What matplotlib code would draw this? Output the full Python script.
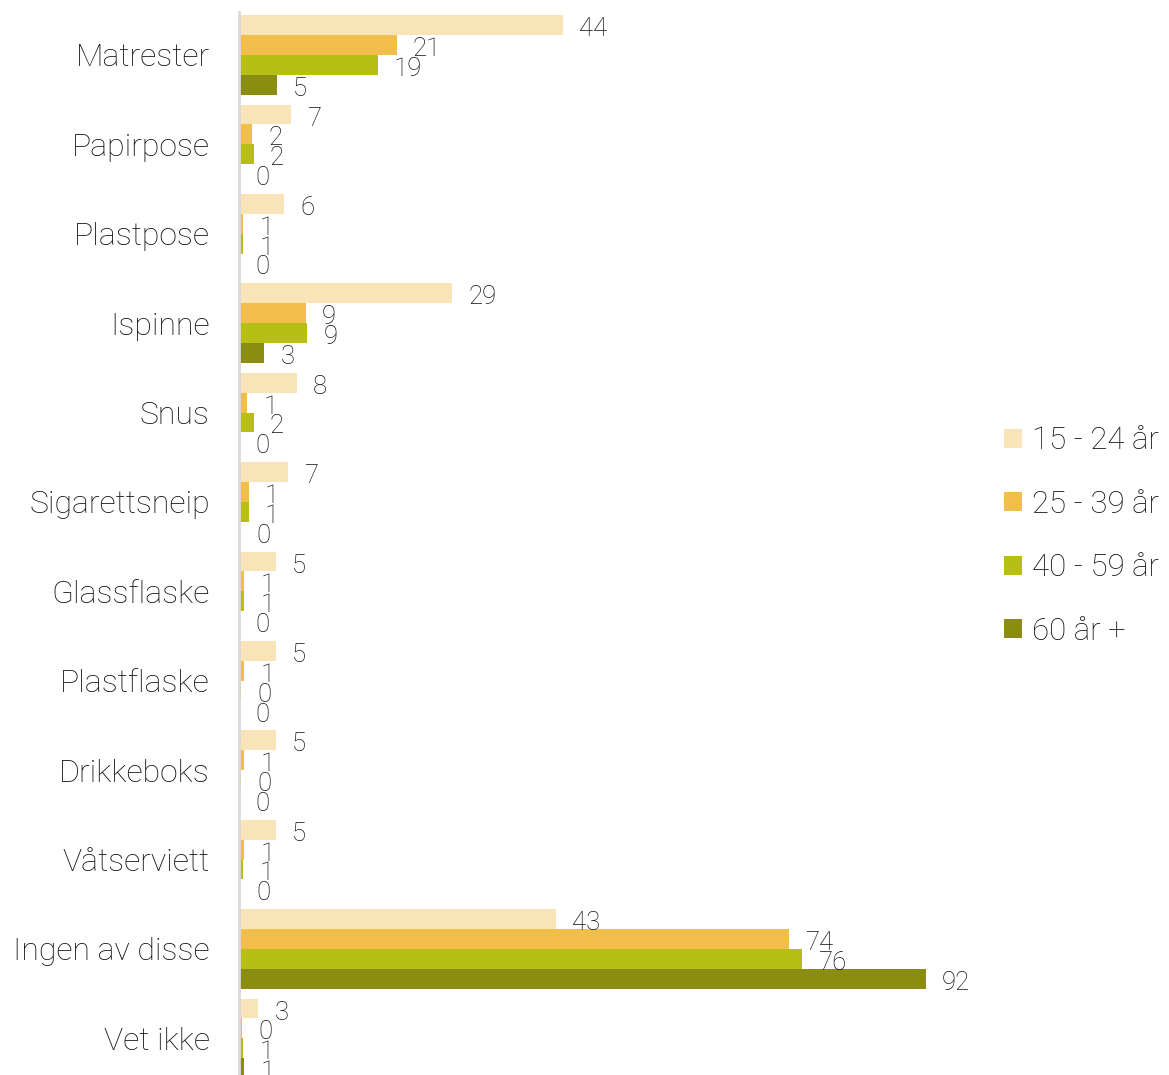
import matplotlib
matplotlib.use('Agg')
import matplotlib.pyplot as plt
from matplotlib.patches import Patch
import numpy as np

categories = ['Matrester', 'Papirpose', 'Plastpose', 'Ispinne', 'Snus',
              'Sigarettsneip', 'Glassflaske', 'Plastflaske', 'Drikkeboks',
              'Våtserviett', 'Ingen av disse', 'Vet ikke']
series = ['15 - 24 år', '25 - 39 år', '40 - 59 år', '60 år +']

# (labels show rounded values)
age_15_24 = [43.6, 7.0, 6.1, 28.7, 7.8, 6.6, 5.0, 5.0, 5.0, 5.0, 42.7, 2.6]
age_25_39 = [21.2, 1.8, 0.6, 9.0, 1.1, 1.3, 0.7, 0.7, 0.7, 0.7, 74.0, 0.4]
age_40_59 = [18.7, 2.0, 0.6, 9.2, 2.0, 1.3, 0.7, 0.3, 0.3, 0.6, 75.8, 0.6]
age_60 = [5.1, 0.1, 0.0, 3.4, 0.0, 0.2, 0.0, 0.0, 0.0, 0.2, 92.4, 0.7]

colors = ['#F9E4B7', '#F1BE4B', '#B7BF14', '#8A8D12']
txt = '#111111'

plt.rcParams['font.family'] = ['Roboto', 'DejaVu Sans']
plt.rcParams['font.weight'] = 'light'

fig = plt.figure(figsize=(11.69, 10.75), dpi=100)
ax = fig.add_axes([239/1169, 0, (982-239)/1169, 1 - 12/1075])

y = np.arange(len(categories))
bh = 0.222
vals = [age_15_24, age_25_39, age_40_59, age_60]
for k, (v, c) in enumerate(zip(vals, colors)):
    pos = y + (k - 1.5) * bh
    ax.barh(pos, v, height=bh, color=c, label=series[k])
    for p, val in zip(pos, v):
        ax.annotate('%.0f' % val, (val, p), xytext=(16, -4),
                    textcoords='offset pixels', va='center', ha='left',
                    fontsize=18.5, color=txt)

ax.set_xlim(0, 100)
ax.set_ylim(11.41, -0.48)
ax.set_yticks(y)
ax.set_yticklabels(categories, fontsize=23, color=txt)
ax.tick_params(axis='y', length=0, pad=21)
ax.set_xticks([])
for s in ['top', 'right', 'bottom']:
    ax.spines[s].set_visible(False)
ax.spines['left'].set_color('#d9d9d9')
ax.spines['left'].set_linewidth(2)

handles = [Patch(facecolor=c) for c in colors]
leg = fig.legend(handles, series, loc='center left',
                 bbox_to_anchor=(976/1169, 1 - 536/1075), frameon=False,
                 fontsize=22.5, handlelength=0.57, handleheight=0.57,
                 handletextpad=0.32, labelspacing=1.1)
for t in leg.get_texts():
    t.set_color(txt)

fig.savefig('out.png', dpi=100)
